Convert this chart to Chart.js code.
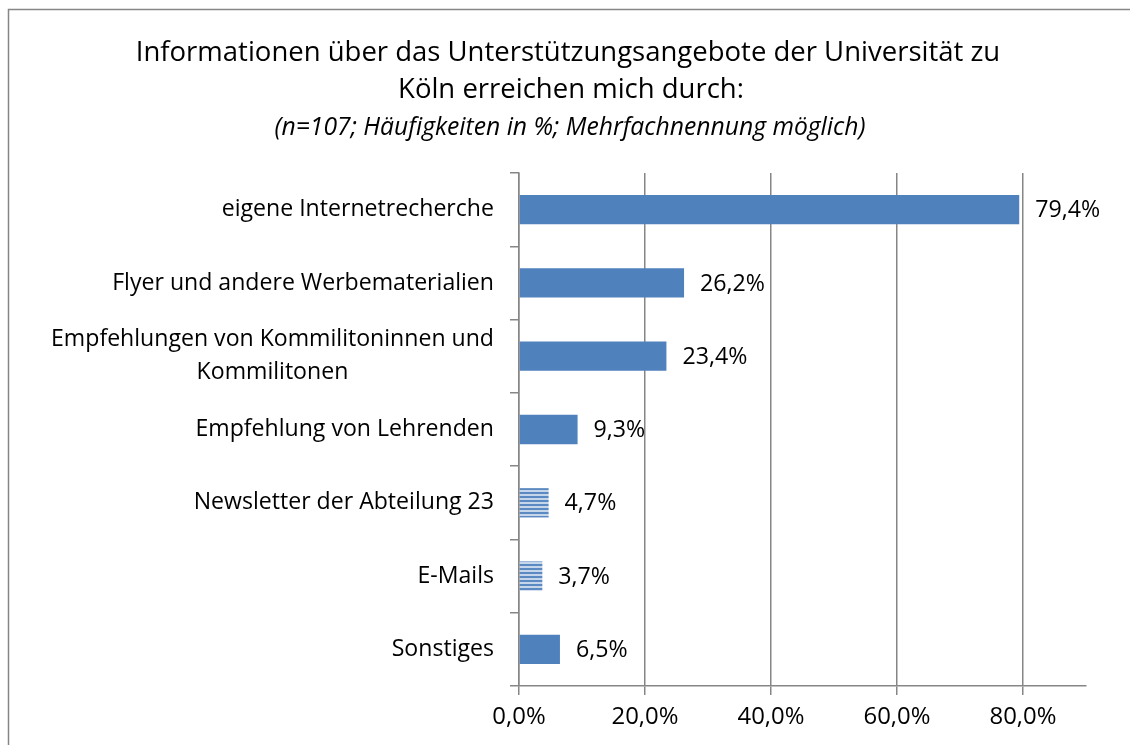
<!DOCTYPE html>
<html>
<head>
<meta charset="utf-8">
<script src="https://cdn.jsdelivr.net/npm/chart.js@4"></script>
<style>
html,body{margin:0;padding:0;background:#fff;}
#wrap{width:1130px;height:745px;position:relative;}
</style>
</head>
<body>
<div id="wrap"><canvas id="c" width="1130" height="745"></canvas></div>
<script>
const titleLines = ["Informationen über das Unterstützungsangebote der Universität zu", "Köln erreichen mich durch:"];
const subtitleText = "(n=107; Häufigkeiten in %; Mehrfachnennung möglich)";
const categories = [
  "eigene Internetrecherche",
  "Flyer und andere Werbematerialien",
  ["Empfehlungen von Kommilitoninnen und", "Kommilitonen"],
  "Empfehlung von Lehrenden",
  "Newsletter der Abteilung 23",
  "E-Mails",
  "Sonstiges"
];
const values = [79.4, 26.2, 23.4, 9.3, 4.7, 3.7, 6.5];
const striped = [false, false, false, false, true, true, false];
const xTicks = [0, 20, 40, 60, 80];

const FONT = "'Open Sans', sans-serif";
const BLUE = "#4F81BD";

const mctx = document.createElement('canvas').getContext('2d');
function fit(text, style, target) {
  mctx.font = style + " 100px " + FONT;
  const w = mctx.measureText(text).width;
  return Math.round(100 * target / w * 10) / 10;
}
const titleSize = fit(titleLines[0], "", 865);
const subSize = fit(subtitleText, "italic", 591);
const labelSize = fit("eigene Internetrecherche", "", 272);
const tickSize = fit("80,0%", "", 67);
const valSize = fit("79,4%", "", 65);

// centre the lines of multi-line category labels (as in the original), by trailing thin spaces
function centreLines(lbl) {
  if (!Array.isArray(lbl)) return lbl;
  mctx.font = labelSize + "px " + FONT;
  const widths = lbl.map(t => mctx.measureText(t).width);
  const maxW = Math.max(...widths);
  const sp = mctx.measureText("\u2009").width || 1;
  return lbl.map((t, i) => t + "\u2009".repeat(Math.round((maxW - widths[i]) / 2 / sp)));
}
const displayLabels = categories.map(centreLines);

function makeStripe() {
  const p = document.createElement('canvas');
  p.width = 4; p.height = 4;
  const g = p.getContext('2d');
  g.fillStyle = "#c5d5ea";
  g.fillRect(0, 0, 4, 4);
  g.fillStyle = "#5b89c2";
  g.fillRect(0, 0, 4, 2);
  return document.getElementById('c').getContext('2d').createPattern(p, 'repeat');
}
const stripe = makeStripe();

const fmt = v => v.toFixed(1).replace('.', ',') + '%';

const decor = {
  id: 'decor',
  beforeDraw(chart) {
    const ctx = chart.ctx;
    ctx.save();
    ctx.fillStyle = '#fff';
    ctx.fillRect(0, 0, chart.width, chart.height);
    ctx.strokeStyle = '#868686';
    ctx.lineWidth = 1.5;
    ctx.beginPath();
    ctx.moveTo(8.5, chart.height + 5);
    ctx.lineTo(8.5, 9.5);
    ctx.lineTo(chart.width + 5, 9.5);
    ctx.stroke();
    ctx.fillStyle = '#000';
    ctx.textAlign = 'center';
    ctx.textBaseline = 'middle';
    ctx.font = titleSize + "px " + FONT;
    ctx.fillText(titleLines[0], 568, 53);
    ctx.fillText(titleLines[1], 571, 90);
    ctx.font = "italic " + subSize + "px " + FONT;
    ctx.fillText(subtitleText, 570, 128);
    ctx.restore();
  },
  afterDatasetsDraw(chart) {
    const ctx = chart.ctx;
    const meta = chart.getDatasetMeta(0);
    ctx.save();
    ctx.fillStyle = '#000';
    ctx.font = valSize + "px " + FONT;
    ctx.textAlign = 'left';
    ctx.textBaseline = 'middle';
    meta.data.forEach((bar, i) => {
      ctx.fillText(fmt(values[i]), bar.x + 16, bar.y + 1);
    });
    ctx.restore();
  }
};

new Chart(document.getElementById('c'), {
  type: 'bar',
  data: {
    labels: displayLabels,
    datasets: [{
      data: values,
      backgroundColor: values.map((v, i) => striped[i] ? stripe : BLUE),
      borderWidth: 0,
      barPercentage: 0.4,
      categoryPercentage: 1.0
    }]
  },
  options: {
    indexAxis: 'y',
    responsive: false,
    animation: false,
    devicePixelRatio: 1,
    layout: { padding: { top: 173, right: 44, bottom: 0, left: 0 } },
    plugins: {
      legend: { display: false },
      title: { display: false },
      tooltip: { enabled: false }
    },
    scales: {
      x: {
        min: 0,
        max: 90,
        afterBuildTicks(s) { s.ticks = xTicks.map(v => ({ value: v })); },
        afterFit(s) { s.height = 59; },
        border: { display: true, color: '#868686', width: 1.5 },
        grid: { display: true, color: '#868686', lineWidth: 1.5, drawOnChartArea: true, drawTicks: true, tickLength: 9 },
        ticks: {
          color: '#000',
          font: { family: FONT, size: tickSize },
          padding: 8,
          maxRotation: 0,
          callback: v => fmt(v)
        }
      },
      y: {
        afterFit(s) { s.width = 519; },
        border: { display: true, color: '#868686', width: 1.5 },
        grid: { display: true, color: '#868686', lineWidth: 1.5, drawOnChartArea: false, drawTicks: true, tickLength: 9, offset: true },
        ticks: {
          color: '#000',
          font: { family: FONT, size: labelSize, lineHeight: 33 / labelSize },
          padding: 16
        }
      }
    }
  },
  plugins: [decor]
});
</script>
</body>
</html>
